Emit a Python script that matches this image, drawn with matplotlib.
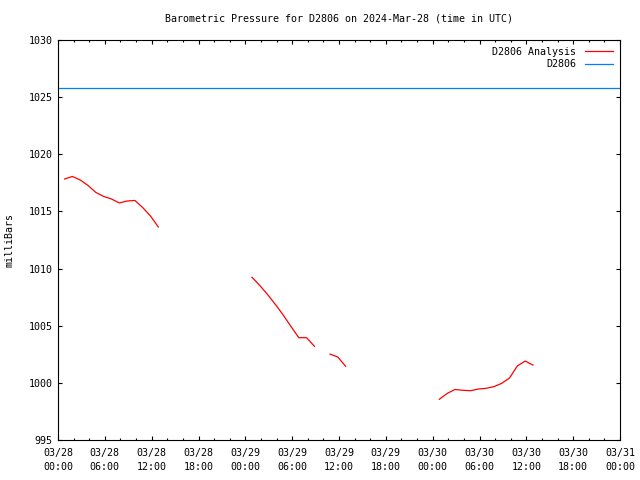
import numpy as np
import matplotlib
matplotlib.use("Agg")
import matplotlib.pyplot as plt

# hours since 2024-03-28 00:00 UTC; NaN marks a gap in the analysis
hours = [0.85, 1.85, 2.85, 3.85, 4.85, 5.85, 6.85, 7.85, 8.85, 9.85, 10.85, 11.85, 12.85,
         18.0,
         24.85, 25.85, 26.85, 27.85, 28.85, 29.85, 30.85, 31.85, 32.85,
         33.85,
         34.85, 35.85, 36.85,
         42.0,
         48.85, 49.85, 50.85, 51.85, 52.85, 53.85, 54.85, 55.85, 56.85, 57.85, 58.85, 59.85, 60.85]
analysis = [1017.84, 1018.06, 1017.75, 1017.27, 1016.66, 1016.31, 1016.09, 1015.74, 1015.91,
            1015.96, 1015.34, 1014.6, 1013.64,
            np.nan,
            1009.24, 1008.52, 1007.73, 1006.86, 1005.94, 1004.93, 1003.95, 1003.95, 1003.2,
            np.nan,
            1002.52, 1002.26, 1001.45,
            np.nan,
            998.56, 999.07, 999.42, 999.35, 999.31, 999.46, 999.52, 999.67, 999.96,
            1000.43, 1001.48, 1001.91, 1001.56]
station_hours = [0, 72]
station = [1025.78, 1025.78]

tick_hours = list(range(0, 73, 6))
tick_labels = ["03/28\n00:00", "03/28\n06:00", "03/28\n12:00", "03/28\n18:00",
               "03/29\n00:00", "03/29\n06:00", "03/29\n12:00", "03/29\n18:00",
               "03/30\n00:00", "03/30\n06:00", "03/30\n12:00", "03/30\n18:00",
               "03/31\n00:00"]
y_ticks = [995, 1000, 1005, 1010, 1015, 1020, 1025, 1030]

plt.rcParams['font.family'] = 'DejaVu Sans Mono'
plt.rcParams['font.size'] = 7.2

fig = plt.figure(figsize=(6.4, 4.8), dpi=100)
ax = fig.add_axes([58/640, 40/480, 562/640, 400/480])

ax.plot(hours, analysis, color='#ff0000', lw=0.9, label='D2806 Analysis')
ax.plot(station_hours, station, color='#0080ff', lw=0.9, label='D2806')

ax.set_xlim(0, 72)
ax.set_ylim(995, 1030)
ax.set_xticks(tick_hours)
ax.set_xticklabels(tick_labels, linespacing=1.45)
ax.set_xticks(range(0, 73, 2), minor=True)
ax.set_yticks(y_ticks)
ax.tick_params(direction='in', top=True, right=True, length=3, width=0.8, pad=4)
ax.tick_params(axis='x', pad=6)
ax.tick_params(which='minor', direction='in', top=True, bottom=True, length=1.5, width=0.8)
for s in ax.spines.values():
    s.set_linewidth(0.8)

fig.text(10/640, 0.5, 'milliBars', rotation=90, ha='center', va='center')
ax.set_title('Barometric Pressure for D2806 on 2024-Mar-28 (time in UTC)',
             fontsize=7.2, pad=13)
ax.legend(loc='upper right', frameon=False, markerfirst=False, handlelength=2.8,
          borderaxespad=0.3, labelspacing=0.25, handletextpad=0.9)

plt.savefig('out.png', dpi=100)
